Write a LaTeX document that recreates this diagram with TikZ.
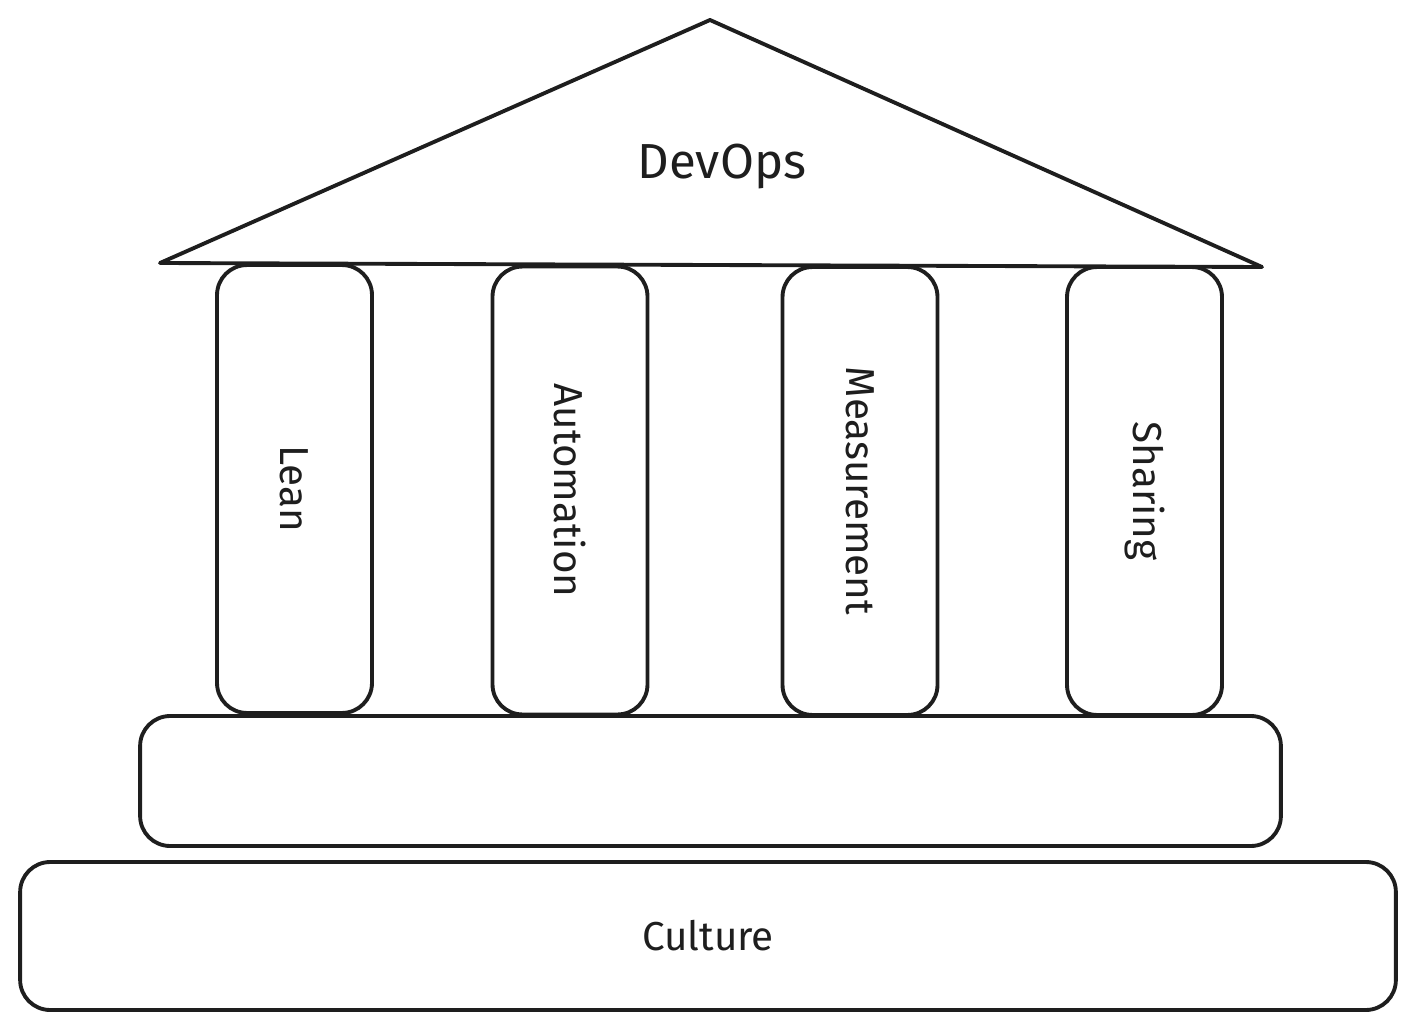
\documentclass[tikz,border=0pt]{standalone}
\usepackage{fontspec}
\setmainfont{Fira Sans}
\usepackage{tikz}
\definecolor{ink}{HTML}{1E1E1E}
\tikzset{
  block/.style = {draw = ink, line width = 2.2pt, rounded corners = 0.6cm, inner sep = 0pt},
  pillar/.style = {block, minimum width = 3.1cm, minimum height = 8.96cm},
  label/.style = {text = ink, font = \fontsize{23}{26}\selectfont}
}
\begin{document}
\begin{tikzpicture}[x = 0.02cm, y = -0.02cm]
  \useasboundingbox (0,0) rectangle (1415,1030);
  % roof
  \coordinate (roofL) at (160,263);
  \coordinate (apex) at (710,20);
  \coordinate (roofR) at (1262,267);
  \draw[draw = ink, line width = 2.2pt, line join = round] (roofL) -- (apex) -- (roofR) -- cycle;
  \node[label, font = \fontsize{28}{32}\selectfont] (devops) at (722,166) {DevOps};
  % pillars
  \node[pillar, label] (lean) at (294.5,489) {\rotatebox{-90}{Lean}};
  \node[pillar, label] (automation) at (570,490.5) {\rotatebox{-90}{Automation}};
  \node[pillar, label] (measurement) at (860,491) {\rotatebox{-90}{Measurement}};
  \node[pillar, label] (sharing) at (1144.5,491) {\rotatebox{-90}{Sharing}};
  % steps
  \node[block, minimum width = 22.82cm, minimum height = 2.6cm] (step) at (710.5,781) {};
  \node[block, label, minimum width = 27.52cm, minimum height = 2.96cm] (culture) at (708,936) {\raisebox{-0.12cm}{Culture}};
\end{tikzpicture}
\end{document}
